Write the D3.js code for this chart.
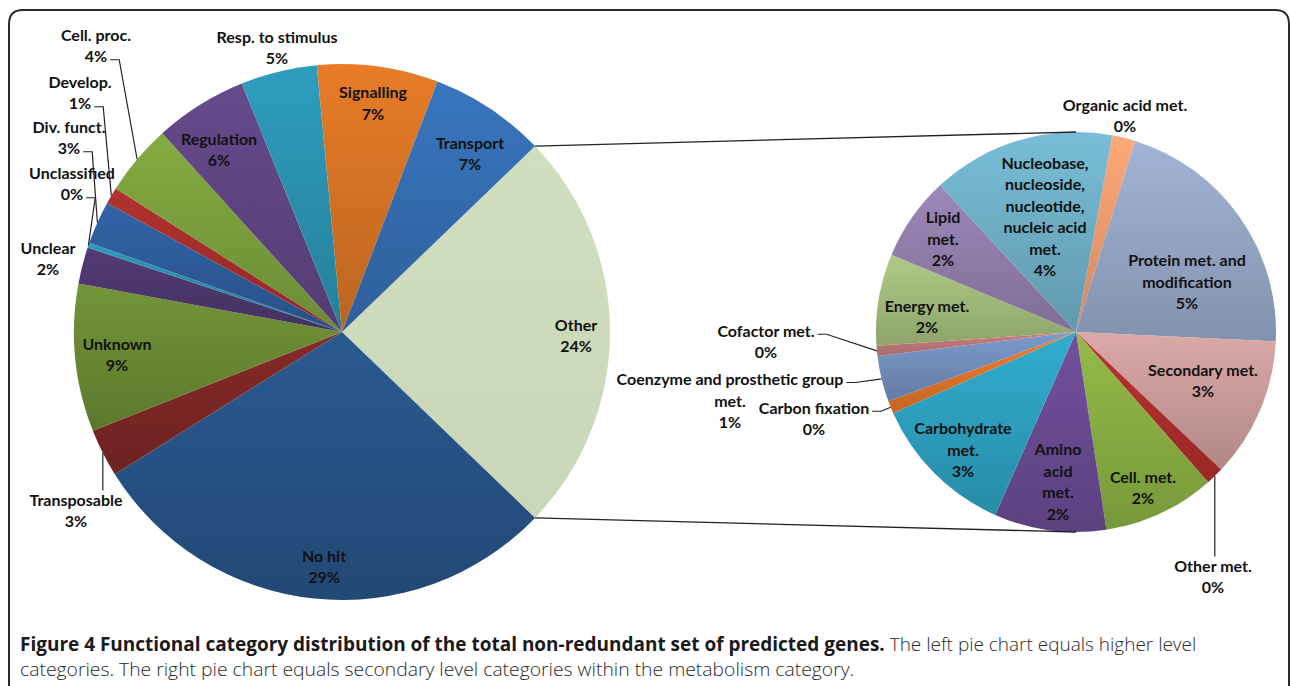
<!DOCTYPE html>
<html>
<head>
<meta charset="utf-8">
<script src="https://cdn.jsdelivr.net/npm/d3@7"></script>
<style>
  body { margin: 0; background: #fff; }
  svg text { font-family: Lato, "Open Sans", sans-serif; }
</style>
</head>
<body>
<div id="chart"></div>
<script>
var width = 1290;
var height = 686;

// higher level categories (left pie), share of all genes in %
var leftCats = ["Other", "No hit", "Transposable", "Unknown", "Unclear", "Unclassified",
  "Div. funct.", "Develop.", "Cell. proc.", "Regulation", "Resp. to stimulus", "Signalling", "Transport"];
var leftVals = [24.4, 28.9, 2.9, 8.9, 2.2, 0.3, 2.6, 1.0, 4.3, 5.6, 4.6, 7.3, 7.0];

// metabolism sub-categories (right pie), share of all genes in %
var rightCats = ["Organic acid met.", "Protein met. and modification", "Secondary met.", "Other met.",
  "Cell. met.", "Amino acid met.", "Carbohydrate met.", "Carbon fixation",
  "Coenzyme and prosthetic group met.", "Cofactor met.", "Energy met.", "Lipid met.",
  "Nucleobase, nucleoside, nucleotide, nucleic acid met."];
var rightVals = [0.45, 5.1, 2.75, 0.35, 2.2, 2.2, 2.85, 0.25, 0.9, 0.2, 1.8, 1.65, 3.6];

var captionBold = "Figure 4 Functional category distribution of the total non-redundant set of predicted genes.";
var captionLine1 = "The left pie chart equals higher level";
var captionLine2 = "categories. The right pie chart equals secondary level categories within the metabolism category.";

var leftColors = ["#cfddbd", "#285489", "#7f2826", "#6d8d35", "#4f3870", "#2b93b0",
  "#2f5e9f", "#a92f2d", "#7ea33e", "#614686", "#2c96b4", "#dc7626", "#3670b5"];
var rightColors = ["#f5a072", "#9aabcb", "#d0a09f", "#b32f2d", "#8cb244", "#6c4c96", "#2ea4c4",
  "#e5782a", "#7592c0", "#c27c7c", "#a7c07e", "#9581b0", "#72b4cc"];

// how the long labels wrap
var wrap = {
  "Protein met. and modification": ["Protein met. and", "modification"],
  "Amino acid met.": ["Amino", "acid", "met."],
  "Carbohydrate met.": ["Carbohydrate", "met."],
  "Coenzyme and prosthetic group met.": ["Coenzyme and prosthetic group", "met."],
  "Lipid met.": ["Lipid", "met."],
  "Nucleobase, nucleoside, nucleotide, nucleic acid met.": ["Nucleobase,", "nucleoside,", "nucleotide,", "nucleic acid", "met."]
};

var left = {cx: 342, cy: 332, r: 268, labelK: 0.86};
var right = {cx: 1076, cy: 332, r: 200, start: 10.5 * Math.PI / 180};

// labels that Excel moved (block centre), with optional leader lines
var placed = {
  "Other": {x: 576, y: 336},
  "No hit": {x: 324, y: 567},
  "Unknown": {x: 117, y: 355},
  "Regulation": {x: 219, y: 150},
  "Transport": {x: 470, y: 154},
  "Resp. to stimulus": {x: 277, y: 48},
  "Cell. proc.": {x: 96, y: 46, leader: "side", line: 1},
  "Develop.": {x: 80, y: 93, leader: "side", line: 1},
  "Div. funct.": {x: 69, y: 138, leader: "side", line: 1},
  "Unclassified": {x: 72, y: 184, leader: "side", line: 1},
  "Unclear": {x: 48, y: 259},
  "Transposable": {x: 76, y: 511, leader: "top"},
  "Organic acid met.": {x: 1125, y: 116},
  "Protein met. and modification": {x: 1187, y: 282},
  "Secondary met.": {x: 1203, y: 381},
  "Other met.": {x: 1213, y: 577, leader: "top"},
  "Cell. met.": {x: 1143, y: 488},
  "Amino acid met.": {x: 1058, y: 482},
  "Carbohydrate met.": {x: 963, y: 450},
  "Carbon fixation": {x: 814, y: 419, leader: "side", line: 0},
  "Coenzyme and prosthetic group met.": {x: 730, y: 401, leader: "side", line: 0},
  "Cofactor met.": {x: 766, y: 342, leader: "side", line: 0},
  "Energy met.": {x: 927, y: 317},
  "Lipid met.": {x: 943, y: 239},
  "Nucleobase, nucleoside, nucleotide, nucleic acid met.": {x: 1045, y: 217}
};

var lineH = 21.5;

var svg = d3.select("#chart")
  .append("svg")
  .attr("width", width)
  .attr("height", height);

var defs = svg.append("defs");

// frame round the figure
svg.append("path")
  .attr("d", "M9,700 V24 Q9,10 23,10 H1275 Q1289,10 1289,24 V700")
  .attr("fill", "none")
  .attr("stroke", "#2b2b2b")
  .attr("stroke-width", 2);

function gradient(id, color, up, k) {
  var g = defs.append("linearGradient").attr("id", id)
    .attr("x1", 0).attr("y1", 0).attr("x2", 0).attr("y2", 1);
  g.append("stop").attr("offset", "0%").attr("stop-color", d3.color(color).brighter(up));
  g.append("stop").attr("offset", "100%").attr("stop-color", d3.color(color).darker(k));
}

function drawPie(p, cats, vals, colors, startAngle, prefix) {
  var data = cats.map(function(c, i) { return {cat: c, value: vals[i]}; });
  var pie = d3.pie().sort(null).value(function(d) { return d.value; })
    .startAngle(startAngle).endAngle(startAngle + 2 * Math.PI);
  var arc = d3.arc().innerRadius(0).outerRadius(p.r);
  var arcs = pie(data);

  var g = svg.append("g").attr("transform", "translate(" + p.cx + "," + p.cy + ")");

  g.selectAll("path")
    .data(arcs)
    .enter()
    .append("path")
      .attr("d", arc)
      .attr("fill", function(d, i) {
        if (d.data.cat == "Other") gradient(prefix + i, colors[i], 0.03, 0.08);
        else gradient(prefix + i, colors[i], 0.15, 0.45);
        return "url(#" + prefix + i + ")";
      });

  arcs.forEach(function(d) {
    var lines = (wrap[d.data.cat] || [d.data.cat]).concat([Math.round(d.data.value) + "%"]);
    var pos = placed[d.data.cat];
    var mid = (d.startAngle + d.endAngle) / 2;
    var x, y;
    if (pos) {
      x = pos.x - p.cx;
      y = pos.y - p.cy;
    } else {
      x = Math.sin(mid) * p.r * p.labelK;
      y = -Math.cos(mid) * p.r * p.labelK;
    }
    var y0 = y - (lines.length - 1) * lineH / 2;
    var t = g.append("text")
      .attr("text-anchor", "middle")
      .style("font-size", "16px")
      .style("font-weight", 700)
      .attr("fill", "#111");
    var spans = lines.map(function(l, i) {
      return t.append("tspan").attr("x", x).attr("y", y0 + i * lineH).attr("dy", "0.35em").text(l);
    });

    if (pos && pos.leader) {
      var ex = Math.sin(mid) * p.r, ey = -Math.cos(mid) * p.r;
      var pts;
      if (pos.leader == "side") {
        var ly = y0 + pos.line * lineH + 3;
        var lx = x + spans[pos.line].node().getComputedTextLength() / 2 + 3;
        pts = [[lx, ly], [lx + 9, ly], [ex, ey]];
      } else {
        var top = y0 - lineH / 2 + 1;
        pts = [[ex, ey], [ex, top]];
        if (Math.abs(ex - x) > 60) pts = [[ex, ey], [x + 29, top]];
      }
      g.append("path")
        .attr("d", d3.line()(pts))
        .attr("fill", "none")
        .attr("stroke", "#222")
        .attr("stroke-width", 1.2);
    }
  });
  return arcs;
}

var leftStart = Math.PI / 2 - (leftVals[0] / d3.sum(leftVals)) * Math.PI;
var leftArcs = drawPie(left, leftCats, leftVals, leftColors, leftStart, "gl");
drawPie(right, rightCats, rightVals, rightColors, right.start, "gr");

// lines joining the "Other" slice to the second pie
var other = leftArcs[0];
[[other.startAngle, -1], [other.endAngle, 1]].forEach(function(e) {
  svg.append("line")
    .attr("x1", left.cx + Math.sin(e[0]) * left.r)
    .attr("y1", left.cy - Math.cos(e[0]) * left.r)
    .attr("x2", right.cx)
    .attr("y2", right.cy + e[1] * right.r)
    .attr("stroke", "#222")
    .attr("stroke-width", 1.3);
});

// caption
function caption(y, targetW, parts) {
  var t = svg.append("text")
    .attr("x", 0).attr("y", 0)
    .style("font-family", "'Open Sans', sans-serif")
    .style("font-size", "19px");
  parts.forEach(function(p) {
    t.append("tspan").style("font-weight", p[1]).attr("fill", p[2]).text(p[0]);
  });
  var w = t.node().getComputedTextLength();
  t.attr("transform", "translate(20," + y + ") scale(" + (targetW / w) + ",1)");
}
caption(651, 1177, [[captionBold, 700, "#1a1a1a"], [" " + captionLine1, 300, "#2a2a2a"]]);
caption(676, 835, [[captionLine2, 300, "#2a2a2a"]]);
</script>
</body>
</html>
